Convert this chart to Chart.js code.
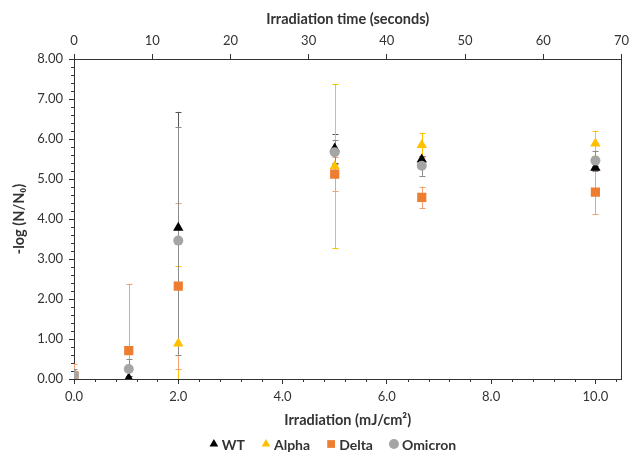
<!DOCTYPE html>
<html><head><meta charset="utf-8">
<script src="https://cdn.jsdelivr.net/npm/chart.js@4"></script>
<style>html,body{margin:0;padding:0;background:#fff}</style>
</head><body>
<canvas id="c" width="634" height="456"></canvas>
<script>
// ---- data ----
const irradiation = [0, 1.05, 2.0, 5.0, 6.67, 10.0];
const seriesNames = ['WT', 'Alpha', 'Delta', 'Omicron'];
const wtMean      = [0.02, 0.02, 3.78, 5.76, 5.49, 5.28];
const wtErr       = [0.15, 0.05, 2.90, 0.37, 0.08, 0.05];
const alphaMean   = [0.00, null, 0.89, 5.32, 5.85, 5.89];
const alphaErr    = [0.05, null, 1.94, 2.05, 0.31, 0.32];
const deltaMean   = [0.08, 0.71, 2.32, 5.12, 4.54, 4.67];
const deltaErr    = [0.30, 1.67, 2.08, 0.42, 0.27, 0.55];
const omicronMean = [0.10, 0.25, 3.46, 5.67, 5.33, 5.46];
const omicronErr  = [0.15, 0.26, 2.85, 0.30, 0.25, 0.25];
const xTickLabels    = [0, 2, 4, 6, 8, 10];
const yTickLabels    = [0, 1, 2, 3, 4, 5, 6, 7, 8];
const timeTickLabels = [0, 10, 20, 30, 40, 50, 60, 70];

// ---- styles ----
const AXIS = '#333333';
const TXT = '#333333';
const FONT = 'Lato, "Open Sans", sans-serif';
const colors   = ['#000000', '#FFC000', '#ED7D31', '#A5A5A5'];
const errCols  = ['#555555', '#FFC000', '#F4A070', '#8C8C8C'];
const styles   = ['triangle', 'triangle', 'rect', 'circle'];
const radii    = [6, 6, 6.5, 5];
const means = [wtMean, alphaMean, deltaMean, omicronMean];
const errs  = [wtErr, alphaErr, deltaErr, omicronErr];

Chart.defaults.font.family = FONT;
Chart.defaults.color = TXT;

const datasets = seriesNames.map((name, i) => ({
  label: name,
  data: irradiation.map((x, j) => ({x: x, y: means[i][j]})).filter(p => p.y !== null),
  errs: irradiation.map((x, j) => ({x: x, y: means[i][j], e: errs[i][j]})).filter(p => p.y !== null),
  showLine: false,
  pointStyle: styles[i],
  pointRadius: radii[i],
  pointBackgroundColor: colors[i],
  pointBorderColor: colors[i],
  pointBorderWidth: 0,
  backgroundColor: colors[i],
  borderColor: colors[i],
  errColor: errCols[i],
  order: 4 - i
}));

const errorBars = {
  id: 'errorBars',
  beforeDatasetsDraw(chart) {
    const ctx = chart.ctx, xs = chart.scales.x, ys = chart.scales.y, a = chart.chartArea;
    ctx.save();
    ctx.beginPath(); ctx.rect(a.left, a.top, a.right - a.left, a.bottom - a.top); ctx.clip();
    chart.data.datasets.forEach(ds => {
      ctx.strokeStyle = ds.errColor; ctx.lineWidth = 1;
      ds.errs.forEach(p => {
        const px = Math.round(xs.getPixelForValue(p.x)) + 0.5;
        const y1 = ys.getPixelForValue(p.y + p.e), y0 = ys.getPixelForValue(p.y - p.e);
        ctx.beginPath();
        ctx.moveTo(px, y1); ctx.lineTo(px, y0);
        ctx.moveTo(px - 3, Math.round(y1) + 0.5); ctx.lineTo(px + 3, Math.round(y1) + 0.5);
        ctx.moveTo(px - 3, Math.round(y0) + 0.5); ctx.lineTo(px + 3, Math.round(y0) + 0.5);
        ctx.stroke();
      });
    });
    ctx.restore();
  }
};

const frameAndMinor = {
  id: 'frameAndMinor',
  afterDraw(chart) {
    const ctx = chart.ctx, xs = chart.scales.x, ys = chart.scales.y, a = chart.chartArea;
    ctx.save();
    ctx.strokeStyle = AXIS; ctx.lineWidth = 1;
    ctx.beginPath();
    const rx = Math.round(a.right) + 0.5;
    ctx.moveTo(rx, a.top); ctx.lineTo(rx, a.bottom);
    for (let k = 1; k <= 26; k++) {
      const v = k * 0.4; if (Math.abs(v / 2 - Math.round(v / 2)) < 1e-6) continue;
      const px = Math.round(xs.getPixelForValue(v)) + 0.5;
      ctx.moveTo(px, a.bottom); ctx.lineTo(px, a.bottom + 3);
    }
    for (let k = 1; k < 40; k++) {
      if (k % 5 === 0) continue;
      const py = Math.round(ys.getPixelForValue(k * 0.2)) + 0.5;
      ctx.moveTo(a.left - 3, py); ctx.lineTo(a.left, py);
    }
    ctx.stroke();
    // legend
    ctx.font = 'bold 14px ' + FONT;
    ctx.textBaseline = 'middle'; ctx.fillStyle = TXT;
    const items = chart.data.datasets.map(ds => ({ds, w: ctx.measureText(ds.label).width}));
    const total = items.reduce((s, it) => s + 12 + it.w, 0) + 17 * (items.length - 1);
    let x = 333 - total / 2; const y = 444;
    items.forEach(it => {
      ctx.fillStyle = it.ds.pointBackgroundColor; ctx.strokeStyle = it.ds.pointBackgroundColor;
      Chart.helpers.drawPoint(ctx, {pointStyle: it.ds.pointStyle, radius: it.ds.pointStyle === 'rect' ? 5.5 : 5, rotation: 0, borderWidth: 0}, x + 4, y);
      ctx.fillStyle = TXT;
      ctx.fillText(it.ds.label, x + 12, y + 1);
      x += 12 + it.w + 17;
    });
    ctx.restore();
  }
};

new Chart(document.getElementById('c'), {
  type: 'scatter',
  data: {datasets},
  options: {
    responsive: false, animation: false,
    layout: {padding: {left: 11, right: 9, top: 11, bottom: 27}},
    plugins: {legend: {display: false}, tooltip: {enabled: false}},
    scales: {
      x: {
        type: 'linear', position: 'bottom', min: 0, max: 10.5,
        afterBuildTicks: s => { s.ticks = xTickLabels.map(v => ({value: v})); },
        afterFit: s => { s.height = 50; },
        ticks: {callback: v => Number(v).toFixed(1), font: {size: 13}, color: TXT, padding: 5, maxRotation: 0, autoSkip: false},
        grid: {display: true, drawOnChartArea: false, drawTicks: true, tickLength: 5, color: AXIS},
        border: {display: true, color: AXIS, width: 1},
        title: {display: true, text: 'Irradiation (mJ/cm²)', font: {size: 14.5, weight: 'bold'}, color: TXT, padding: {top: 0, bottom: 0}}
      },
      x2: {
        type: 'linear', position: 'top', min: 0, max: 70,
        afterBuildTicks: s => { s.ticks = timeTickLabels.map(v => ({value: v})); },
        afterFit: s => { s.height = 48; },
        ticks: {callback: v => String(v), font: {size: 13}, color: TXT, padding: 5, maxRotation: 0, autoSkip: false},
        grid: {display: true, drawOnChartArea: false, drawTicks: true, tickLength: 5, color: AXIS},
        border: {display: true, color: AXIS, width: 1},
        title: {display: true, text: 'Irradiation time (seconds)', font: {size: 14.5, weight: 'bold'}, color: TXT, padding: {top: 0, bottom: 0}}
      },
      y: {
        type: 'linear', position: 'left', min: 0, max: 8,
        afterBuildTicks: s => { s.ticks = yTickLabels.map(v => ({value: v})); },
        afterFit: s => { s.width = 63; },
        ticks: {callback: v => Number(v).toFixed(2), font: {size: 13}, color: TXT, padding: 6, autoSkip: false},
        grid: {display: true, drawOnChartArea: false, drawTicks: true, tickLength: 5, color: AXIS},
        border: {display: true, color: AXIS, width: 1},
        title: {display: true, text: '-log (N/N₀)', font: {size: 14.5, weight: 'bold'}, color: TXT, padding: {top: 0, bottom: 0}}
      }
    }
  },
  plugins: [errorBars, frameAndMinor]
});
</script>
</body></html>
